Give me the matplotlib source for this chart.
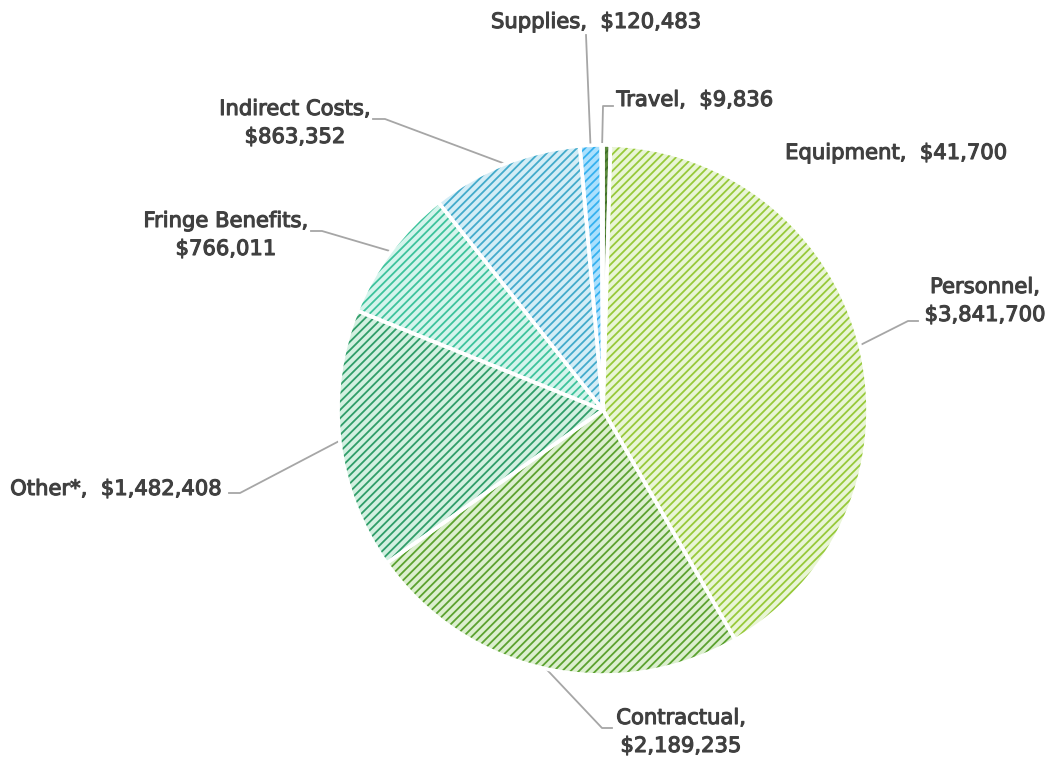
import matplotlib
matplotlib.use("Agg")
import matplotlib.pyplot as plt
import matplotlib.patheffects as pe
from matplotlib.patches import Wedge
import numpy as np

# budget categories, in the order they go round the pie (clockwise from 12 o'clock)
categories = ["Equipment", "Personnel", "Contractual", "Other*",
              "Fringe Benefits", "Indirect Costs", "Supplies", "Travel"]
amounts = [41700, 3841700, 2189235, 1482408, 766011, 863352, 120483, 9836]

# pale fill + darker diagonal hatch for each slice
fill_colors = ["#5b8a3c", "#e9f5d6", "#dcefcf", "#d3f0e1", "#d5f4ec", "#d4edf6", "#abe0fd", "#e8f4fb"]
hatch_colors = ["#3f6e28", "#97c93a", "#5ba22f", "#2f9d69", "#3dc39c", "#43abcb", "#35b1ef", "#9fd4ee"]

# label layout in pixels: text centre, leader elbow points (pie end is computed)
label_text = ["Equipment,  $41,700", "Personnel,\n$3,841,700", "Contractual,\n$2,189,235",
              "Other*,  $1,482,408", "Fringe Benefits,\n$766,011", "Indirect Costs,\n$863,352",
              "Supplies,  $120,483", "Travel,  $9,836"]
label_xy = [(896, 153), (985, 301), (681, 732), (116, 489), (226, 235), (295, 123), (596, 22), (695, 100)]
leader_pts = [[], [(908, 321), (918, 321)], [(602, 728), (612, 728)], [(240, 493), (229, 493)],
              [(322, 231), (311, 231)], [(385, 119), (373, 119)], [(586, 35)], [(603, 106), (613, 106)]]

W, H = 1052, 757
CX, CY, R = 603, 410, 265

plt.rcParams['hatch.linewidth'] = 1.3
fig = plt.figure(figsize=(W / 100, H / 100), dpi=100)
ax = fig.add_axes([0, 0, 1, 1])


def px(x, y):
    return (x - CX) / R, (CY - y) / R


wedges, _ = ax.pie(amounts, colors=fill_colors, startangle=90, counterclock=False,
                   wedgeprops=dict(edgecolor="none", linewidth=0))
for w, hc in zip(wedges, hatch_colors):
    ax.add_patch(Wedge(w.center, w.r, w.theta1, w.theta2, facecolor="none",
                       edgecolor=hc, hatch="////", linewidth=0, zorder=w.zorder + 0.1))
    ax.add_patch(Wedge(w.center, w.r, w.theta1, w.theta2, facecolor="none",
                       edgecolor="white", linewidth=2.6, zorder=w.zorder + 0.2))

for w, txt, (tx, ty), pts in zip(wedges, label_text, label_xy, leader_pts):
    if pts:
        mid = np.deg2rad((w.theta1 + w.theta2) / 2)
        xs = [np.cos(mid)]
        ys = [np.sin(mid)]
        for p in pts:
            a, b = px(*p)
            xs.append(a)
            ys.append(b)
        ax.plot(xs, ys, color="#a6a6a6", linewidth=1.3, zorder=1)
    a, b = px(tx, ty)
    ax.text(a, b, txt, ha="center", va="center", fontsize=15.2, color="#404040",
            linespacing=1.5, family="DejaVu Sans",
            path_effects=[pe.withStroke(linewidth=0.8, foreground="#404040")])

ax.set_xlim(-CX / R, (W - CX) / R)
ax.set_ylim(-(H - CY) / R, CY / R)
ax.set_aspect("auto")
ax.axis("off")

fig.savefig("out.png", dpi=100)
